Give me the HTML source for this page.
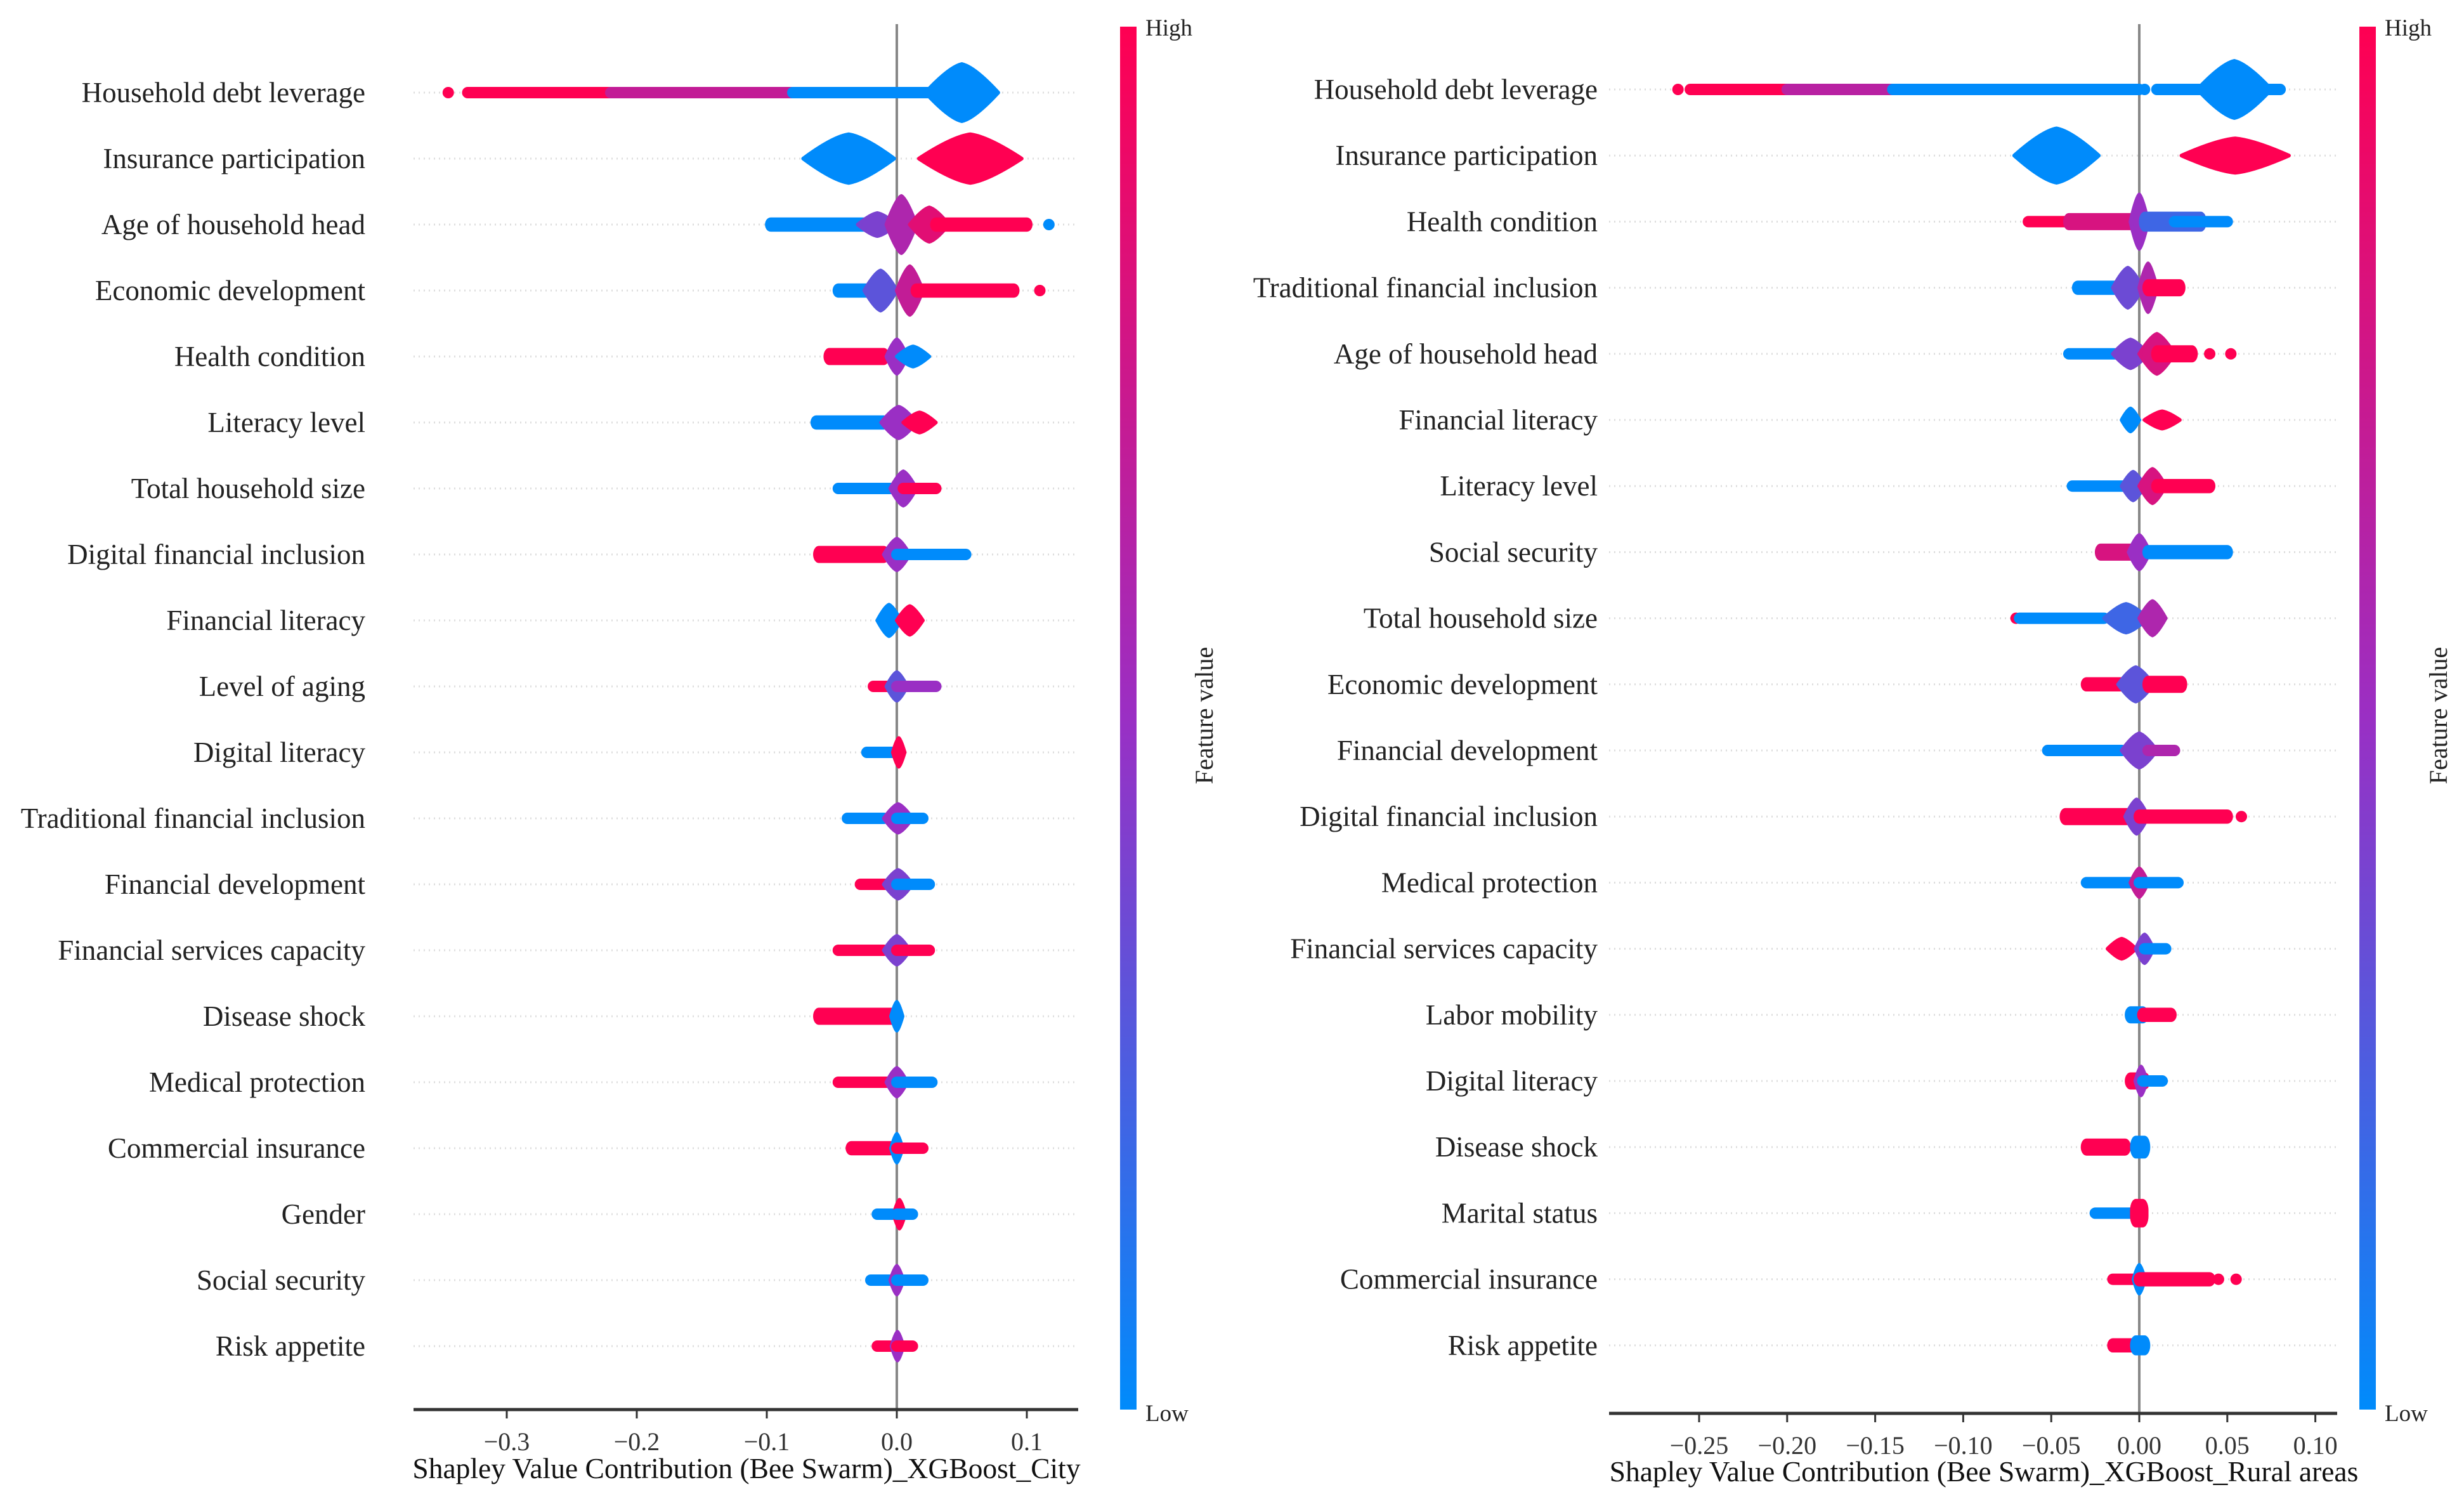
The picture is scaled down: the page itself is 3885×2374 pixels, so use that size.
<!DOCTYPE html>
<html><head><meta charset="utf-8"><style>
html,body{margin:0;padding:0;background:#fff;}
svg{display:block;font-family:"Liberation Serif",serif;}
</style></head><body>
<svg id="chart" width="3885" height="2374" viewBox="0 0 3885 2374" xmlns="http://www.w3.org/2000/svg">
<defs>
<linearGradient id="cbar" x1="0" y1="0" x2="0" y2="1">
<stop offset="0" stop-color="#ff0052"/><stop offset="0.5" stop-color="#9a2fc4"/><stop offset="1" stop-color="#008bfb"/>
</linearGradient>
</defs>
</svg>
<script>
// ---- Left panel (City) data ----
const cityFeatures = ["Household debt leverage","Insurance participation","Age of household head","Economic development","Health condition","Literacy level","Total household size","Digital financial inclusion","Financial literacy","Level of aging","Digital literacy","Traditional financial inclusion","Financial development","Financial services capacity","Disease shock","Medical protection","Commercial insurance","Gender","Social security","Risk appetite"];
// each cluster: [from, to, density, featureValue(0 low..1 high), shape c=capsule e=ellipse d=dot]
const cityClusters = [
 [[-0.345,-0.345,0.2,1,"d"],[-0.33,-0.22,0.2,1,"c"],[-0.22,-0.08,0.2,0.7,"c"],[-0.08,0.03,0.2,0,"c"],[0.022,0.078,1.0,0,"e"]],
 [[-0.072,-0.002,0.85,0,"e"],[0.017,0.096,0.85,1,"e"]],
 [[-0.097,-0.02,0.25,0,"c"],[-0.03,0.0,0.4,0.4,"e"],[-0.008,0.015,1.0,0.6,"e"],[0.01,0.04,0.6,0.85,"e"],[0.03,0.1,0.25,1,"c"],[0.117,0.117,0.2,0,"d"]],
 [[-0.045,-0.015,0.25,0,"c"],[-0.025,0.0,0.7,0.3,"e"],[0.0,0.02,0.85,0.7,"e"],[0.015,0.09,0.25,1,"c"],[0.11,0.11,0.2,1,"d"]],
 [[-0.052,-0.01,0.3,1,"c"],[-0.008,0.008,0.6,0.5,"e"],[0.0,0.025,0.35,0,"e"]],
 [[-0.062,-0.01,0.25,0,"c"],[-0.012,0.015,0.55,0.5,"e"],[0.005,0.03,0.35,1,"e"]],
 [[-0.045,-0.005,0.2,0,"c"],[-0.005,0.015,0.6,0.5,"e"],[0.005,0.03,0.2,1,"c"]],
 [[-0.06,-0.01,0.3,1,"c"],[-0.01,0.01,0.55,0.5,"e"],[0.0,0.053,0.2,0,"c"]],
 [[-0.015,0.003,0.55,0,"e"],[0.0,0.02,0.5,1,"e"]],
 [[-0.018,0.0,0.2,1,"c"],[-0.008,0.008,0.5,0.3,"e"],[0.0,0.03,0.2,0.5,"c"]],
 [[-0.023,-0.002,0.2,0,"c"],[-0.003,0.006,0.5,1,"e"]],
 [[-0.038,-0.01,0.2,0,"c"],[-0.01,0.012,0.5,0.5,"e"],[0.0,0.02,0.2,0,"c"]],
 [[-0.028,-0.005,0.2,1,"c"],[-0.01,0.012,0.5,0.4,"e"],[0.0,0.025,0.2,0,"c"]],
 [[-0.045,-0.01,0.2,1,"c"],[-0.01,0.01,0.5,0.4,"e"],[0.0,0.025,0.2,1,"c"]],
 [[-0.06,-0.002,0.3,1,"c"],[-0.003,0.003,0.5,0,"e"]],
 [[-0.045,-0.005,0.2,1,"c"],[-0.008,0.008,0.5,0.5,"e"],[0.0,0.027,0.2,0,"c"]],
 [[-0.035,-0.002,0.25,1,"c"],[-0.004,0.004,0.5,0,"e"],[0.0,0.02,0.2,1,"c"]],
 [[-0.015,0.0,0.2,0,"c"],[-0.002,0.006,0.5,1,"e"],[0.0,0.012,0.2,0,"c"]],
 [[-0.02,0.0,0.2,0,"c"],[-0.005,0.005,0.5,0.5,"e"],[0.0,0.02,0.2,0,"c"]],
 [[-0.015,0.0,0.2,1,"c"],[-0.004,0.005,0.5,0.5,"e"],[0.0,0.012,0.2,1,"c"]]
];
const cityTicks = [-0.3,-0.2,-0.1,0.0,0.1];
const cityTickLabels = ["\u22120.3","\u22120.2","\u22120.1","0.0","0.1"];

// ---- Right panel (Rural) data ----
const ruralFeatures = ["Household debt leverage","Insurance participation","Health condition","Traditional financial inclusion","Age of household head","Financial literacy","Literacy level","Social security","Total household size","Economic development","Financial development","Digital financial inclusion","Medical protection","Financial services capacity","Labor mobility","Digital literacy","Disease shock","Marital status","Commercial insurance","Risk appetite"];
const ruralClusters = [
 [[-0.262,-0.262,0.2,1,"d"],[-0.255,-0.2,0.2,1,"c"],[-0.2,-0.14,0.2,0.65,"c"],[-0.14,-0.0,0.2,0,"c"],[0.003,0.003,0.2,0,"d"],[0.01,0.08,0.2,0,"c"],[0.033,0.075,1.0,0,"e"]],
 [[-0.071,-0.023,0.95,0,"e"],[0.024,0.085,0.6,1,"e"]],
 [[-0.063,-0.02,0.2,1,"c"],[-0.04,-0.005,0.3,0.8,"c"],[-0.005,0.005,0.95,0.5,"e"],[0.003,0.035,0.35,0.2,"c"],[0.02,0.05,0.2,0,"c"]],
 [[-0.035,-0.01,0.25,0,"c"],[-0.015,0.002,0.7,0.35,"e"],[0.0,0.01,0.85,0.6,"e"],[0.005,0.023,0.3,1,"c"]],
 [[-0.04,-0.01,0.2,0,"c"],[-0.015,0.005,0.5,0.4,"e"],[0.0,0.02,0.7,0.8,"e"],[0.01,0.03,0.3,1,"c"],[0.04,0.04,0.2,1,"d"],[0.052,0.052,0.2,1,"d"]],
 [[-0.01,0.0,0.4,0,"e"],[0.003,0.023,0.3,1,"e"]],
 [[-0.038,-0.005,0.2,0,"c"],[-0.01,0.003,0.5,0.3,"e"],[0.0,0.015,0.6,0.8,"e"],[0.01,0.04,0.25,1,"c"]],
 [[-0.022,0.0,0.3,0.8,"c"],[-0.006,0.006,0.6,0.5,"e"],[0.005,0.05,0.25,0,"c"]],
 [[-0.07,-0.07,0.2,1,"d"],[-0.068,-0.02,0.2,0,"c"],[-0.02,0.005,0.5,0.2,"e"],[0.0,0.015,0.6,0.6,"e"]],
 [[-0.03,-0.005,0.25,1,"c"],[-0.012,0.008,0.6,0.3,"e"],[0.005,0.024,0.3,1,"c"]],
 [[-0.052,-0.01,0.2,0,"c"],[-0.01,0.01,0.6,0.4,"e"],[0.005,0.02,0.2,0.6,"c"]],
 [[-0.042,-0.005,0.3,1,"c"],[-0.008,0.005,0.6,0.4,"e"],[0.0,0.05,0.25,1,"c"],[0.058,0.058,0.2,1,"d"]],
 [[-0.03,-0.005,0.2,0,"c"],[-0.005,0.005,0.5,0.7,"e"],[0.0,0.022,0.2,0,"c"]],
 [[-0.018,-0.002,0.35,1,"e"],[-0.002,0.008,0.5,0.4,"e"],[0.003,0.015,0.2,0,"c"]],
 [[-0.005,0.002,0.3,0,"c"],[0.002,0.018,0.25,1,"c"]],
 [[-0.005,0.003,0.3,1,"c"],[-0.002,0.004,0.5,0.5,"e"],[0.002,0.013,0.2,0,"c"]],
 [[-0.03,-0.008,0.3,1,"c"],[-0.002,0.003,0.4,0,"c"]],
 [[-0.025,-0.002,0.2,0,"c"],[-0.002,0.002,0.5,1,"c"]],
 [[-0.015,0.0,0.2,1,"c"],[-0.002,0.002,0.5,0,"e"],[0.0,0.04,0.25,1,"c"],[0.045,0.045,0.2,1,"d"],[0.055,0.055,0.2,1,"d"]],
 [[-0.015,-0.002,0.25,1,"c"],[-0.002,0.003,0.35,0,"c"]]
];
const ruralTicks = [-0.25,-0.20,-0.15,-0.10,-0.05,0.00,0.05,0.10];
const ruralTickLabels = ["\u22120.25","\u22120.20","\u22120.15","\u22120.10","\u22120.05","0.00","0.05","0.10"];

const NS = "http://www.w3.org/2000/svg";
const svg = document.getElementById("chart");
function mk(tag, attrs, parent){const e=document.createElementNS(NS,tag);for(const k in attrs)e.setAttribute(k,attrs[k]);(parent||svg).appendChild(e);return e;}
function col(t){
  const lo=[0,139,251], mid=[154,47,196], hi=[255,0,82];
  let a,b,u; if(t<0.5){a=lo;b=mid;u=t/0.5;}else{a=mid;b=hi;u=(t-0.5)/0.5;}
  return "rgb("+a.map((v,i)=>Math.round(v+(b[i]-v)*u)).join(",")+")";
}

function panel(cfg){
  const g = mk("g",{});
  
  
  const xs = v => cfg.zeroX + v*cfg.pxPerUnit;
  const ys = i => cfg.y0 + i*cfg.rowH;
  const maxH = 45, minR = 9;
  cfg.features.forEach((f,i)=>{
    const gl = mk("line",{x1:cfg.axL,x2:cfg.axR,y1:ys(i),y2:ys(i),stroke:"#ddd","stroke-width":3,"stroke-dasharray":"2,6"},g);
    
    
    const t = mk("text",{x:cfg.labelX,y:ys(i)+15,"text-anchor":"end","font-size":45,fill:"#222"},g);
    t.textContent=f;
    
    
  });
  const zl = mk("line",{x1:xs(0),x2:xs(0),y1:cfg.zeroTop,y2:cfg.axY,stroke:"#888","stroke-width":4},g);
  
  
  cfg.clusters.forEach((row,i)=>{
    const rg = mk("g",{},g);
    
    
    row.forEach(c=>{
      const [a,b,d,t,s]=c;
      const hh = Math.max(minR, maxH*d);
      const x0=xs(a), x1=xs(b), cy=ys(i), fill=col(t);
      let el;
      if(s==="d"){ el=mk("circle",{cx:x0,cy:cy,r:minR,fill:fill},rg); }
      else if(s==="e"){
        const cx=(x0+x1)/2, rx=Math.max((x1-x0)/2,minR);
        el=mk("path",{d:"M"+(cx-rx)+","+cy+" Q"+(cx-rx*0.35)+","+(cy-hh*0.9)+" "+cx+","+(cy-hh)+" Q"+(cx+rx*0.35)+","+(cy-hh*0.9)+" "+(cx+rx)+","+cy+" Q"+(cx+rx*0.35)+","+(cy+hh*0.9)+" "+cx+","+(cy+hh)+" Q"+(cx-rx*0.35)+","+(cy+hh*0.9)+" "+(cx-rx)+","+cy+"Z",fill:fill,stroke:fill,"stroke-width":6,"stroke-linejoin":"round"},rg);
      } else {
        el=mk("rect",{x:x0-minR,y:cy-hh,width:Math.max(x1-x0,0)+2*minR,height:2*hh,rx:minR,ry:Math.min(hh,minR*2),fill:fill},rg);
      }
      
      
    });
  });
  const ax = mk("line",{x1:cfg.axL,x2:cfg.axR,y1:cfg.axY,y2:cfg.axY,stroke:"#333","stroke-width":5},g);
  
  
  cfg.ticks.forEach((v,k)=>{
    const tk = mk("line",{x1:xs(v),x2:xs(v),y1:cfg.axY,y2:cfg.axY+14,stroke:"#333","stroke-width":3},g);
    
    
    const tl = mk("text",{x:xs(v),y:cfg.axY+64,"text-anchor":"middle","font-size":40,fill:"#333"},g);
    tl.textContent=cfg.tickLabels[k];
    
    
  });
  const xt = mk("text",{x:cfg.titleX,y:cfg.titleY,"text-anchor":"middle","font-size":45.5,fill:"#111"},g);
  xt.textContent=cfg.title;
  
  
  const cb = mk("rect",{x:cfg.cbX,y:42,width:26,height:2180,fill:"url(#cbar)"},g);
  
  
  const hi = mk("text",{x:cfg.cbX+40,y:56,"font-size":37,fill:"#222"},g);
  hi.textContent="High";
  
  
  const lo = mk("text",{x:cfg.cbX+40,y:2240,"font-size":37,fill:"#222"},g);
  lo.textContent="Low";
  
  
  const fv = mk("text",{x:cfg.fvX,y:1128,"text-anchor":"middle","font-size":40,fill:"#222",transform:"rotate(-90 "+cfg.fvX+" 1128)"},g);
  fv.textContent="Feature value";
  
  
}

panel({name:"city-panel",features:cityFeatures,clusters:cityClusters,ticks:cityTicks,tickLabels:cityTickLabels,
  zeroX:1414,pxPerUnit:2050,y0:146,rowH:104,axL:652,axR:1700,axY:2222,zeroTop:38,labelX:576,
  title:"Shapley Value Contribution (Bee Swarm)_XGBoost_City",titleX:1177,titleY:2330,cbX:1766,fvX:1912});
panel({name:"rural-panel",features:ruralFeatures,clusters:ruralClusters,ticks:ruralTicks,tickLabels:ruralTickLabels,
  zeroX:3373,pxPerUnit:2776,y0:141,rowH:104.2,axL:2537,axR:3685,axY:2228,zeroTop:38,labelX:2519,
  title:"Shapley Value Contribution (Bee Swarm)_XGBoost_Rural areas",titleX:3128,titleY:2335,cbX:3720,fvX:3858});
</script>
</body></html>
